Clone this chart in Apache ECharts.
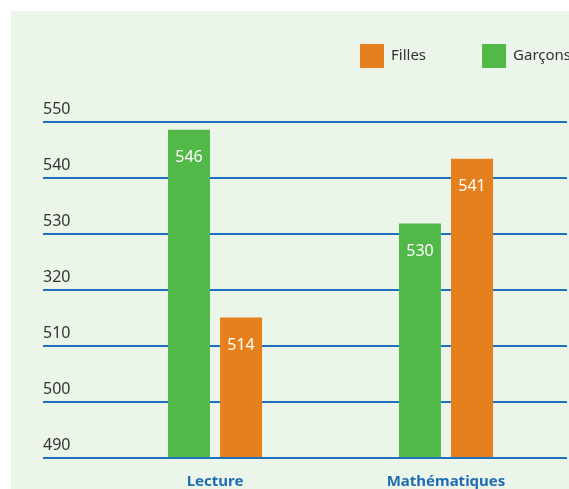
<!DOCTYPE html>
<html>
<head>
<meta charset="utf-8">
<script src="https://cdn.jsdelivr.net/npm/echarts@6/dist/echarts.min.js"></script>
<style>
  html, body { margin: 0; padding: 0; background: #ffffff; }
  #chart { width: 569px; height: 489px; }
</style>
</head>
<body>
<div id="chart"></div>
<script>
// data
const categories = ['Lecture', 'Mathématiques']
const garconsValues = [548.6, 531.8]
const fillesValues = [515, 543.4]
const garconsLabels = ['546', '530']
const fillesLabels = ['514', '541']
const yTicks = [490, 500, 510, 520, 530, 540, 550]
const yTickLabels = ['490', '500', '510', '320', '530', '540', '550']

const GREEN = '#52b848'
const ORANGE = '#e5801d'
const BLUE = '#1f70bf'
const FONT = "'Noto Sans', sans-serif"

const chart = echarts.init(document.getElementById('chart'), null, { renderer: 'canvas' })

const yFmt = (v) => {
  const i = yTicks.indexOf(v)
  return i >= 0 ? yTickLabels[i] : ''
}

chart.setOption({
  animation: false,
  backgroundColor: 'transparent',
  textStyle: { fontFamily: FONT },
  graphic: [
    { type: 'rect', z: -10, shape: { x: 11, y: 11, width: 558, height: 478 }, style: { fill: '#ecf5e9' } },
  ],
  legend: {
    left: 355, top: 39, width: 300,
    orient: 'horizontal',
    itemWidth: 24, itemHeight: 24, itemGap: 56,
    icon: 'rect',
    data: ['Filles', 'Garçons'],
    textStyle: { color: '#333', fontSize: 15, fontFamily: FONT, padding: [0, 0, 0, 2] },
  },
  grid: [
    { left: 43, right: 2, top: 122, bottom: 31 },
    { left: 99.5, right: 7.5, top: 122, bottom: 31 },
  ],
  xAxis: [
    { gridIndex: 0, type: 'value', show: false, min: 0, max: 1 },
    {
      gridIndex: 1, type: 'category', data: categories,
      axisLine: { show: false }, axisTick: { show: false },
      axisLabel: { color: '#1f6cb4', fontWeight: 'bold', fontSize: 15, margin: 17, fontFamily: FONT },
    },
  ],
  yAxis: [
    {
      gridIndex: 0, type: 'value', min: 490, max: 550, interval: 10,
      axisLine: { show: false }, axisTick: { show: false },
      splitLine: { lineStyle: { color: BLUE, width: 2 } },
      axisLabel: {
        inside: true, margin: 0, align: 'left', verticalAlign: 'bottom',
        padding: [0, 0, 5, 0], color: '#333', fontSize: 16, fontFamily: FONT,
        formatter: yFmt,
      },
    },
    { gridIndex: 1, type: 'value', min: 490, max: 550, show: false },
  ],
  series: [
    {
      name: 'Garçons', type: 'bar', xAxisIndex: 1, yAxisIndex: 1,
      data: garconsValues, barWidth: 42, barGap: '24%',
      itemStyle: { color: GREEN },
      label: {
        show: true, position: 'insideTop', distance: 20, color: '#fff', fontSize: 16, fontFamily: FONT,
        formatter: (p) => garconsLabels[p.dataIndex],
      },
    },
    {
      name: 'Filles', type: 'bar', xAxisIndex: 1, yAxisIndex: 1,
      data: fillesValues, barWidth: 42,
      itemStyle: { color: ORANGE },
      label: {
        show: true, position: 'insideTop', distance: 20, color: '#fff', fontSize: 16, fontFamily: FONT,
        formatter: (p) => fillesLabels[p.dataIndex],
      },
    },
  ],
})
</script>
</body>
</html>
